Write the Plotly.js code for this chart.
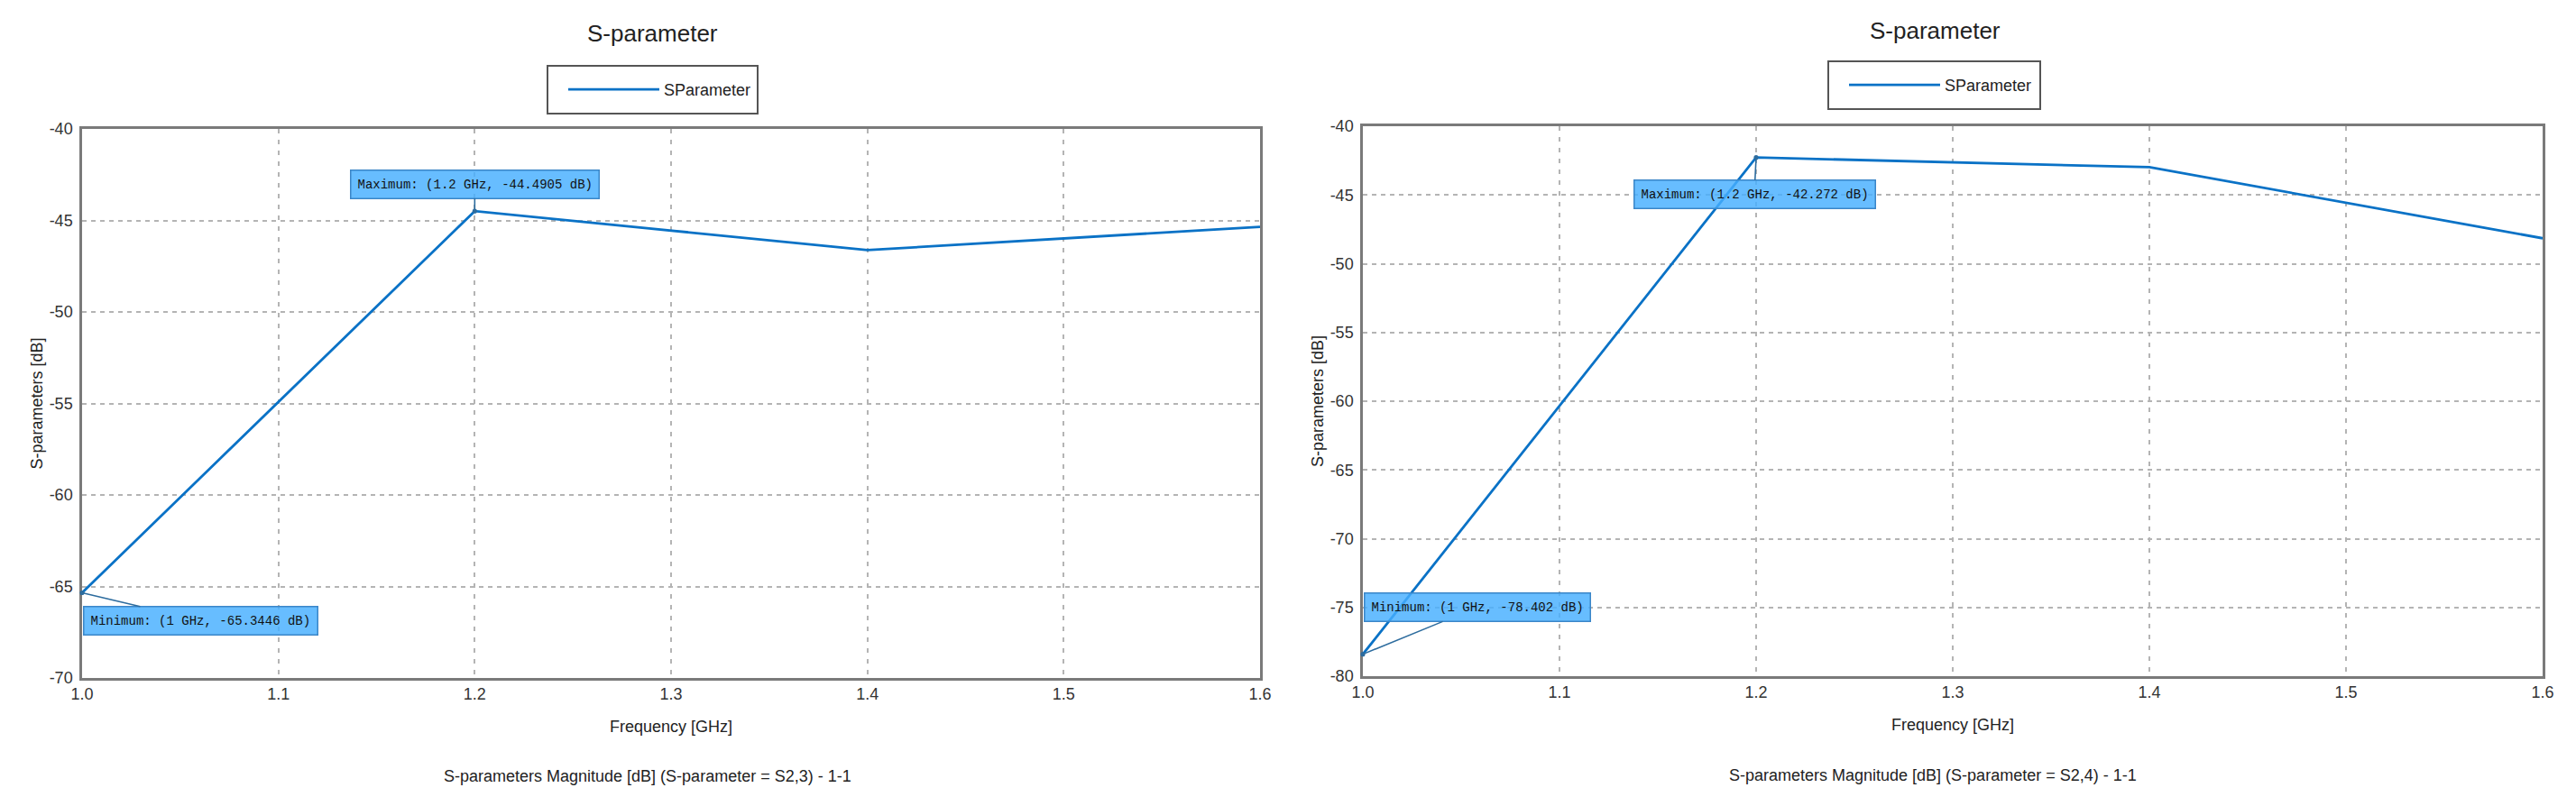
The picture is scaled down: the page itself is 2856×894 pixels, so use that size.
<!DOCTYPE html>
<html>
<head>
<meta charset="utf-8">
<script src="https://cdn.plot.ly/plotly-3.0.1.min.js"></script>
<style>
  html, body { margin: 0; padding: 0; background: #ffffff; overflow: hidden; }
  #chart { width: 2856px; height: 894px; }
</style>
</head>
<body>
<div id="chart"></div>
<script>
// ---- data ----
const freqGHz = [1.0, 1.2, 1.4, 1.6];
const s23dB = [-65.3446, -44.4905, -46.62, -45.35];
const s24dB = [-78.402, -42.272, -42.98, -48.15];
const seriesName = "SParameter";
const chartTitle = "S-parameter";
const xTitle = "Frequency [GHz]";
const yTitle = "S-parameters [dB]";
const subTitle23 = "S-parameters Magnitude [dB] (S-parameter = S2,3) - 1-1";
const subTitle24 = "S-parameters Magnitude [dB] (S-parameter = S2,4) - 1-1";
const xTickVals = [1.0, 1.1, 1.2, 1.3, 1.4, 1.5, 1.6];
const xTickText = ["1.0", "1.1", "1.2", "1.3", "1.4", "1.5", "1.6"];
const yTickVals23 = [-70, -65, -60, -55, -50, -45, -40];
const yTickText23 = ["-70", "-65", "-60", "-55", "-50", "-45", "-40"];
const yTickVals24 = [-80, -75, -70, -65, -60, -55, -50, -45, -40];
const yTickText24 = ["-80", "-75", "-70", "-65", "-60", "-55", "-50", "-45", "-40"];
const yRange23 = [-70, -40];
const yRange24 = [-80, -40];
const xRange = [1.0, 1.6];

// ---- styling ----
const W = 2856, H = 894;
const FONT = '"Liberation Sans", Arial, sans-serif';
const MONO = '"Liberation Mono", "DejaVu Sans Mono", monospace';
const lineColor = '#0a72c6';
const gridColor = '#b4b4b4';
const frameColor = '#7a7a7a';

const px = v => v / W;
const py = v => 1 - v / H;

function extremes(xs, ys) {
  let iMax = 0, iMin = 0;
  ys.forEach((v, i) => { if (v > ys[iMax]) iMax = i; if (v < ys[iMin]) iMin = i; });
  return { max: { x: xs[iMax], y: ys[iMax] }, min: { x: xs[iMin], y: ys[iMin] } };
}

function fmtGHz(v) { return String(+v.toFixed(4)); }

function markerNote(kind, pt, xref, yref, ax, ay) {
  return {
    x: pt.x, y: pt.y, xref: xref, yref: yref,
    text: kind + ': (' + fmtGHz(pt.x) + ' GHz, ' + pt.y + ' dB)',
    showarrow: true, ax: ax, ay: ay,
    arrowhead: 6, arrowsize: 0.8, arrowwidth: 1.6, arrowcolor: '#2d6c9e',
    font: { family: MONO, size: 14, color: '#111111' },
    bgcolor: 'rgba(70,175,255,0.82)', bordercolor: '#3b86c8', borderwidth: 1.5,
    borderpad: 7
  };
}

const e23 = extremes(freqGHz, s23dB);
const e24 = extremes(freqGHz, s24dB);

const traces = [
  { x: freqGHz, y: s23dB, type: 'scatter', mode: 'lines', name: seriesName,
    xaxis: 'x', yaxis: 'y', legend: 'legend',
    line: { color: lineColor, width: 2.8 }, hoverinfo: 'x+y' },
  { x: freqGHz, y: s24dB, type: 'scatter', mode: 'lines', name: seriesName,
    xaxis: 'x2', yaxis: 'y2', legend: 'legend2',
    line: { color: lineColor, width: 2.8 }, hoverinfo: 'x+y' }
];

function xAxis(domain, anchor) {
  return {
    domain: domain, anchor: anchor, range: xRange,
    tickmode: 'array', tickvals: xTickVals, ticktext: xTickText,
    ticks: '', showline: true, mirror: true,
    linecolor: frameColor, linewidth: 2.5, showgrid: true, gridcolor: gridColor,
    gridwidth: 1.8, griddash: '5px,7px', zeroline: false,
    tickfont: { family: FONT, size: 18, color: '#333333' },
    title: { text: xTitle, font: { family: FONT, size: 18, color: '#222222' }, standoff: 21 }
  };
}
function yAxis(domain, anchor, range, vals, texts) {
  return {
    domain: domain, anchor: anchor, range: range,
    tickmode: 'array', tickvals: vals, ticktext: texts,
    ticks: '', showline: true, mirror: true,
    linecolor: frameColor, linewidth: 2.5, showgrid: true, gridcolor: gridColor,
    gridwidth: 1.8, griddash: '5px,5px', zeroline: false,
    tickfont: { family: FONT, size: 18, color: '#333333' },
    ticklabelstandoff: 4,
    title: { text: yTitle, font: { family: FONT, size: 18, color: '#222222' }, standoff: 3 }
  };
}

function legendAt(xPix, yMidPix) {
  return {
    x: px(xPix), y: py(yMidPix), xanchor: 'left', yanchor: 'middle',
    orientation: 'h', itemwidth: 101,
    borderwidth: 0, bgcolor: 'rgba(0,0,0,0)',
    font: { family: FONT, size: 18, color: '#222222' }
  };
}

function legendFrame(x0, y0, x1, y1) {
  return { type: 'rect', xref: 'paper', yref: 'paper',
    x0: px(x0), x1: px(x1), y0: py(y1), y1: py(y0),
    line: { color: '#555555', width: 2 }, fillcolor: 'rgba(255,255,255,0)', layer: 'above' };
}

const layout = {
  width: W, height: H,
  margin: { l: 0, r: 0, t: 0, b: 0 },
  paper_bgcolor: '#ffffff', plot_bgcolor: '#ffffff',
  showlegend: true,
  font: { family: FONT, color: '#222222' },
  xaxis: xAxis([px(91), px(1397)], 'y'),
  yaxis: yAxis([py(752), py(143)], 'x', yRange23, yTickVals23, yTickText23),
  xaxis2: xAxis([px(1511), px(2819)], 'y2'),
  yaxis2: yAxis([py(750), py(140)], 'x2', yRange24, yTickVals24, yTickText24),
  legend: legendAt(625, 99.5),
  legend2: legendAt(2045, 94.5),
  shapes: [
    legendFrame(607, 73, 840, 126),
    legendFrame(2027, 68, 2262, 121)
  ],
  annotations: [
    { text: chartTitle, xref: 'paper', yref: 'paper', x: px(723), y: py(37),
      xanchor: 'center', yanchor: 'middle', showarrow: false,
      font: { family: FONT, size: 26, color: '#222222' } },
    { text: chartTitle, xref: 'paper', yref: 'paper', x: px(2145), y: py(34),
      xanchor: 'center', yanchor: 'middle', showarrow: false,
      font: { family: FONT, size: 26, color: '#222222' } },
    { text: subTitle23, xref: 'paper', yref: 'paper', x: px(718), y: py(861),
      xanchor: 'center', yanchor: 'middle', showarrow: false,
      font: { family: FONT, size: 18, color: '#222222' } },
    { text: subTitle24, xref: 'paper', yref: 'paper', x: px(2143), y: py(860),
      xanchor: 'center', yanchor: 'middle', showarrow: false,
      font: { family: FONT, size: 18, color: '#222222' } },
    markerNote('Maximum', e23.max, 'x', 'y', 0, -30),
    markerNote('Minimum', e23.min, 'x', 'y', 131, 31),
    markerNote('Maximum', e24.max, 'x2', 'y2', -2, 41),
    markerNote('Minimum', e24.min, 'x2', 'y2', 127, -52)
  ]
};

Plotly.newPlot('chart', traces, layout, { displayModeBar: false });
</script>
</body>
</html>
